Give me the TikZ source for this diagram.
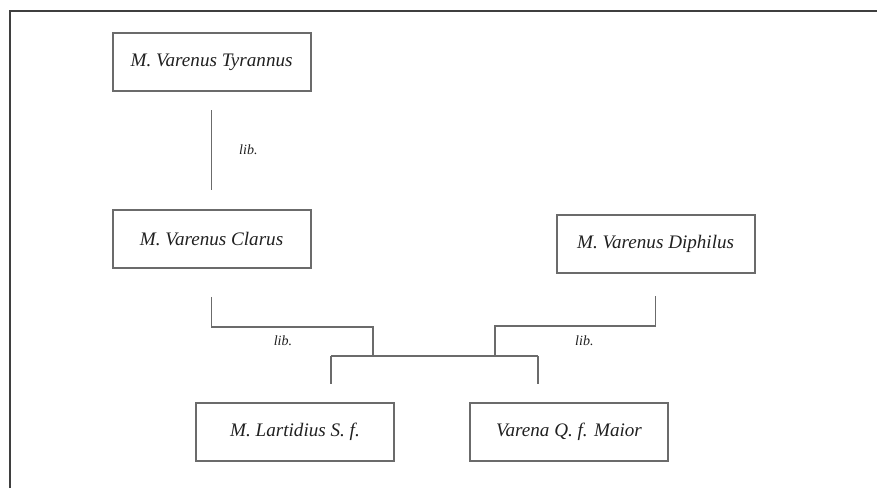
\documentclass[tikz,border=0pt]{standalone}
\usepackage{fontspec}
\setmainfont{Liberation Serif}
\usepackage{xcolor}
\usepackage{tkz-euclide}
\usetikzlibrary{positioning}

\definecolor{linegray}{HTML}{6B6B6B}
\definecolor{framegray}{HTML}{3F3F3F}
\definecolor{textgray}{HTML}{202020}

\tikzset{
  person/.style={draw=linegray, line width=1.3pt, minimum width=4.95cm,
    minimum height=1.45cm, inner sep=0pt,
    font=\fontsize{13.6}{16}\selectfont\itshape, text=textgray},
  lib/.style={font=\fontsize{10}{12}\selectfont\itshape, text=textgray},
  conn/.style={color=linegray, line width=1pt},
  frame/.style={color=framegray, line width=1pt}
}

\begin{document}
\begin{tikzpicture}
        \useasboundingbox (0,0) rectangle (21.925,12.2);
        \tkzDefPoint(0.25,0){F1}
        \tkzDefPoint(0.25,11.925){F2}
        \tkzDefPoint(21.925,11.925){F3}
        \draw[frame] (F1) -- (F2) -- (F3);
        \node[person] (tyr) at (5.29,10.64) {M. Varenus Tyrannus};
        \node[person] (cla) at (5.29,6.225) {M. Varenus Clarus};
        \node[person] (dip) at (16.39,6.09) {M. Varenus Diphilus};
        \node[person, minimum height=1.43cm] (lar) at (7.375,1.4) {M. Lartidius S. f.};
        \node[person, minimum height=1.43cm] (var) at (14.225,1.4) {Varena Q. f. Maior};
        \tkzDefPoint(9.325,4.025){CL}
        \tkzDefPoint(9.325,3.3){JL}
        \tkzDefPoint(12.375,4.05){DR}
        \tkzDefPoint(12.375,3.3){JR}
        \tkzDefPoint(8.275,3.3){BL}
        \tkzDefPoint(13.45,3.3){BR}
        \draw[conn, shorten <=0.45cm, shorten >=0.475cm] (tyr) -- (cla);
        \draw[conn, shorten <=0.7cm] (cla.south) |- (CL) -- (JL);
        \draw[conn, shorten <=0.55cm] (dip.south) |- (DR) -- (JR);
        \draw[conn] (BL) -- (BR);
        \draw[conn, shorten >=0.45cm] (BL) -- (BL |- lar.north);
        \draw[conn, shorten >=0.45cm] (BR) -- (BR |- var.north);
        \node[lib] (lib1) at (6.21,8.45) {lib.};
        \node[lib] (lib2) at (7.075,3.675) {lib.};
        \node[lib] (lib3) at (14.61,3.675) {lib.};
    \end{tikzpicture}
\end{document}
